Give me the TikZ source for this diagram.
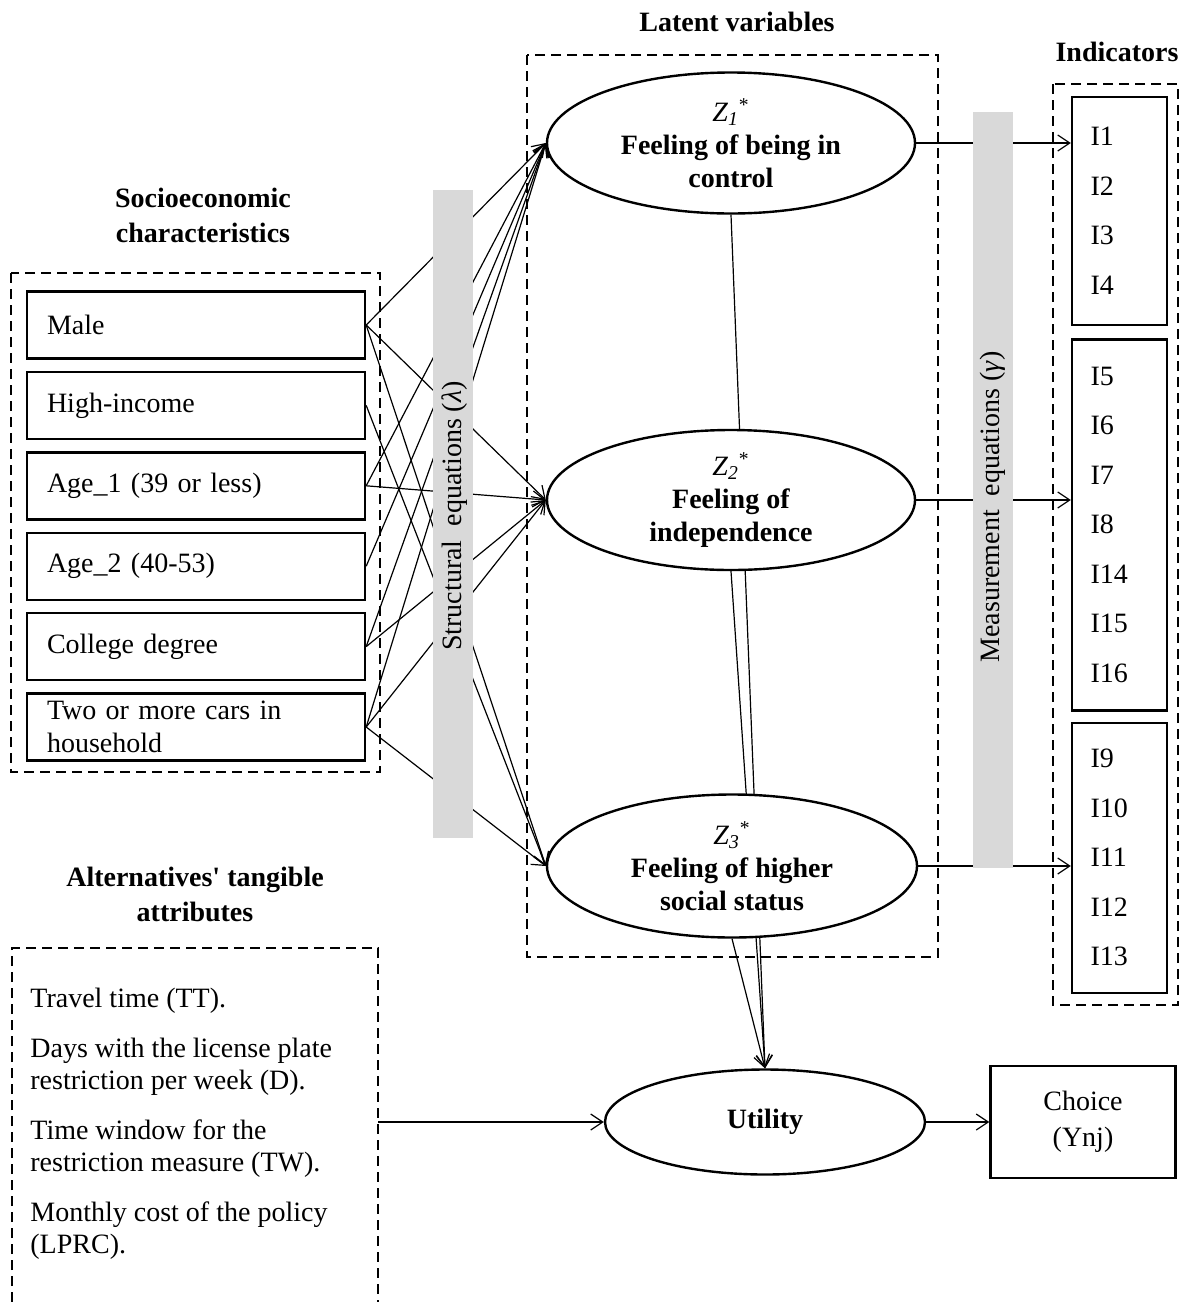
\documentclass[tikz,border=0pt]{standalone}
\usepackage{fontspec}
\setmainfont{Liberation Serif}
\usetikzlibrary{arrows.meta}
\usetikzlibrary{shapes.geometric}
\usetikzlibrary{backgrounds}
\usetikzlibrary{positioning}

\definecolor{barGray}{RGB}{217,217,217}

\tikzset{
  varbox/.style={draw, line width=1.2pt, minimum width=169pt, minimum height=33.5pt,
    text width=149pt, inner xsep=10pt, inner ysep=0pt, align=left,
    font=\fontsize{14}{16.5}\selectfont},
  indbox/.style={draw, line width=1.2pt, minimum width=47.5pt, text width=29pt,
    inner xsep=9pt, inner ysep=0pt, align=left, font=\fontsize{14}{24.75}\selectfont},
  latent/.style={draw, ellipse, line width=1.2pt, fill=white, inner sep=0pt,
    align=center, font=\fontsize{14}{16.5}\selectfont},
  frame/.style={line width=1.2pt, dash pattern=on 5pt off 3pt},
  title/.style={font=\fontsize{14}{17.5}\selectfont\bfseries, align=center},
  link/.style={line width=0.6pt, -{Straight Barb[length=6pt,width=8pt]}},
}

\newcommand{\zvar}[1]{\textit{Z}\textsubscript{\textit{#1}}\textsuperscript{*}}

\begin{document}
\begin{tikzpicture}[x=0.5pt, y=-0.5pt]
  \useasboundingbox (0,0) rectangle (1184,1302);

  % titles
  \node[title] (socT) at (203,215) {Socioeconomic\\characteristics};
  \node[title] (latT) at (737,22) {Latent variables};
  \node[title] (indT) at (1117,52) {Indicators};
  \node[title] (altT) at (195,894) {Alternatives\textquotesingle\ tangible\\attributes};

  % socioeconomic characteristics
  \draw[frame] (11,273) rectangle (380,772);
  \node[varbox] (male) at (196,325) {Male};
  \node[varbox, below=5.5pt of male] (high) {High-income};
  \node[varbox, below=5.5pt of high] (age1) {Age\_1 (39 or less)};
  \node[varbox, below=5.5pt of age1] (age2) {Age\_2 (40-53)};
  \node[varbox, below=5.5pt of age2] (college) {College degree};
  \node[varbox, below=5.5pt of college] (cars) {Two or more cars in\\household};

  % latent variables
  \draw[frame] (527,55) rectangle (938,957);
  \node[latent, minimum width=184pt, minimum height=70.5pt] (z1) at (731,143)
    {\zvar{1}\\\textbf{Feeling of being in}\\\textbf{control}};
  \node[latent, minimum width=184pt, minimum height=70pt] (z2) at (731,500)
    {\zvar{2}\\\textbf{Feeling of}\\\textbf{independence}};
  \node[latent, minimum width=185pt, minimum height=71.5pt] (z3) at (732,866)
    {\zvar{3}\\\textbf{Feeling of higher}\\\textbf{social status}};

  % indicators
  \draw[frame] (1053,84) rectangle (1178,1005);
  \node[indbox, minimum height=114pt] (ind1) at (1119.5,211) {I1\\I2\\I3\\I4};
  \node[indbox, minimum height=185.5pt, below=6pt of ind1] (ind2)
    {I5\\I6\\I7\\I8\\I14\\I15\\I16};
  \node[indbox, minimum height=135pt, below=5pt of ind2] (ind3)
    {I9\\I10\\I11\\I12\\I13};

  % utility and choice
  \node[latent, minimum width=160pt, minimum height=52.5pt] (utility) at (765,1122)
    {\textbf{Utility}};
  \node[draw, line width=1.2pt, minimum width=92.5pt, minimum height=56pt,
    align=center, font=\fontsize{14}{18}\selectfont] (choice) at (1083,1122)
    {Choice\\(Ynj)};

  % alternatives' tangible attributes
  \draw[frame] (12,1302) -- (12,948) -- (378,948) -- (378,1302);
  \coordinate (altout) at (378,1122);
  \node[anchor=north west, inner sep=0pt, align=left,
    font=\fontsize{14}{16.25}\selectfont] (attrs) at (30,988)
    {Travel time (TT).\\[8.5pt]
     Days with the license plate\\restriction per week (D).\\[8.5pt]
     Time window for the\\restriction measure (TW).\\[8.5pt]
     Monthly cost of the policy\\(LPRC).};

  % structural equations
  \foreach \s/\t in {male/z1, male/z2, male/z3, high/z3, age1/z1, age1/z2,
                     age2/z1, college/z1, college/z2, cars/z1, cars/z2, cars/z3}
    \draw[link] (\s.east) -- (\t.west);

  % measurement equations
  \draw[link] (z1.east) -- (z1.east -| ind1.west);
  \draw[link] (z2.east) -- (z2.east -| ind2.west);
  \draw[link] (z3.east) -- (z3.east -| ind3.west);

  \begin{pgfonlayer}{background}
    \foreach \z in {z1, z2, z3}
      \draw[link] (\z.south) -- (utility.north);
  \end{pgfonlayer}
  \draw[link] (altout) -- (utility.west);
  \draw[link] (utility.east) -- (choice.west);

  % grey bars
  \fill[barGray] (433,190) rectangle (473,838);
  \node[rotate=90, font=\fontsize{14}{16.5}\selectfont] (strT) at (455,516)
    {Structural\ \ equations (\textit{λ})};
  \fill[barGray] (973,112) rectangle (1013,868);
  \node[rotate=90, font=\fontsize{14}{16.5}\selectfont] (meaT) at (993,507)
    {Measurement\ \ equations (\textit{γ})};
\end{tikzpicture}
\end{document}
